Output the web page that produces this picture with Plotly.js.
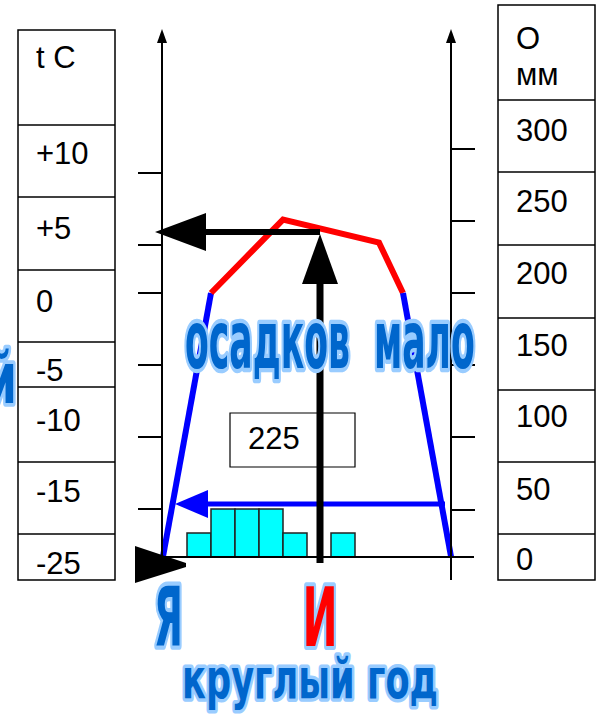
<!DOCTYPE html>
<html>
<head>
<meta charset="utf-8">
<script src="https://cdn.plot.ly/plotly-3.0.1.min.js"></script>
<style>
html,body{margin:0;padding:0;background:#fff;overflow:hidden;}
#chart{width:600px;height:715px;}
</style>
</head>
<body>
<div id="chart"></div>
<script>
// ---------- data ----------
const curveMonths = [0, 2, 5, 9, 10, 12];          // month position along the year
const curveTempC  = [-18.3, 0, 5.1, 3.5, 0, -18.3]; // temperature, °C
const monthIdx    = [0, 1, 2, 3, 4, 5, 6, 7, 8, 9, 10, 11];
const precipMm    = [0, 25, 50, 50, 50, 25, 0, 25, 0, 0, 0, 0];
const totalPrecip = '225';
const tempTicks   = [8.33, 3.33, 0, -5, -10, -15];
const precipTicks = [49, 125, 200, 275, 350, 425];
const tableTempLabels   = ['t C', '+10', '+5', '0', '-5', '-10', '-15', '-25'];
const tablePrecipHeader = ['O', 'мм'];
const tablePrecipLabels = ['300', '250', '200', '150', '100', '50', '0'];
const wordArt = ['осадков\u00a0\u00a0мало', 'й', 'Я', 'И', 'круглый год'];

// ---------- helpers (pixel -> paper) ----------
const W = 600, H = 715;
const px = x => x / W, py = y => 1 - y / H;
function line(x0, y0, x1, y1, color, width) {
  return {type:'line', xref:'paper', yref:'paper', x0:px(x0), y0:py(y0), x1:px(x1), y1:py(y1),
          line:{color:color, width:width}, layer:'above'};
}
function rect(x0, y0, x1, y1, width) {
  return {type:'rect', xref:'paper', yref:'paper', x0:px(x0), y0:py(y0), x1:px(x1), y1:py(y1),
          line:{color:'#000', width:width}, fillcolor:'rgba(0,0,0,0)', layer:'above'};
}
function poly(pts, color) {
  return {type:'path', xref:'paper', yref:'paper',
          path:'M' + pts.map(p => px(p[0]) + ',' + py(p[1])).join('L') + 'Z',
          fillcolor:color, line:{color:color, width:0}, layer:'above'};
}
const TXT_FONT = {family:'"Liberation Sans", Arial, sans-serif', size:31, color:'#000'};
function label(s, x, y, anchor) {
  return {text:s, xref:'paper', yref:'paper', x:px(x), y:py(y), xanchor:anchor || 'left',
          yanchor:'middle', showarrow:false, font:TXT_FONT};
}

// ---------- traces ----------
const BLUE = '#0000FF', RED = '#FF0000';
const seg = (a, b, color) => ({
  type:'scatter', mode:'lines', x:curveMonths.slice(a, b + 1), y:curveTempC.slice(a, b + 1),
  line:{color:color, width:6}, xaxis:'x', yaxis:'y', hoverinfo:'skip', showlegend:false
});
const traces = [
  {type:'bar', x:monthIdx.map(i => i + 0.5), y:precipMm, width:1, xaxis:'x', yaxis:'y2',
   marker:{color:'#00FFFF', line:{color:'#222', width:1.5}}, hoverinfo:'skip', showlegend:false},
  seg(0, 1, BLUE), seg(1, 4, RED), seg(4, 5, BLUE)
];

// ---------- shapes ----------
const shapes = [];
// left table
shapes.push(rect(18, 30, 115, 580, 1.5));
[125, 197, 270, 342, 387, 462, 534].forEach(y => shapes.push(line(18, y, 115, y, '#000', 1.5)));
// right table
shapes.push(rect(498, 5, 595, 580, 1.5));
[100, 172, 245, 318, 390, 462, 534].forEach(y => shapes.push(line(498, y, 595, y, '#000', 1.5)));
// box for total
shapes.push(rect(230, 413, 355, 467, 1.2));
// axes
shapes.push(line(162, 40, 162, 565, '#000', 2));
shapes.push(poly([[157, 43], [162, 29], [167, 43]], '#000'));
shapes.push(line(451, 40, 451, 580, '#000', 2));
shapes.push(poly([[446, 43], [451, 29], [456, 43]], '#000'));
shapes.push(line(162, 557, 474, 557, '#000', 2));
// blue arrow
shapes.push(line(205, 504, 445, 504, BLUE, 5));
shapes.push(poly([[175, 504], [208, 490], [208, 518]], BLUE));
// black arrows
shapes.push(line(204, 232, 320, 232, '#000', 6));
shapes.push(poly([[155, 232], [206, 213], [206, 251]], '#000'));
shapes.push(line(320, 280, 320, 563, '#000', 7));
shapes.push(poly([[320, 234], [302, 284], [338, 284]], '#000'));
shapes.push(poly([[135, 546], [186, 563], [186, 567], [135, 583]], '#000'));

// ---------- annotations ----------
const annotations = [];
const leftY = [57, 153, 228, 301, 370, 421, 491, 563];
tableTempLabels.forEach((s, i) => annotations.push(label(s, 34, leftY[i])));
annotations.push(label(tablePrecipHeader[0], 514, 38));
annotations.push(label(tablePrecipHeader[1], 514, 74));
const rightY = [130, 201, 273, 345, 416, 489, 559];
tablePrecipLabels.forEach((s, i) => annotations.push(label(s, 514, rightY[i])));
annotations.push(label(totalPrecip, 274, 439, 'center'));

const ART_FAMILY = '"Liberation Sans Narrow", "DejaVu Sans Condensed", "Liberation Sans", sans-serif';
const ART_SIZE = 40;
const artBoxes = [[186, 322, 474, 380], [-10, 346, 14, 403], [156, 584, 180, 646],
                  [306, 584, 334, 646], [185, 654, 437, 711]];
const artFill = ['#0066CC', '#0066CC', '#0066CC', '#FF0000', '#0066CC'];
const artMap = {};
wordArt.forEach((s, i) => {
  const b = artBoxes[i];
  artMap[annotations.length] = {text:s, box:b};
  annotations.push({text:s, xref:'paper', yref:'paper', x:px((b[0] + b[2]) / 2), y:py((b[1] + b[3]) / 2),
    xanchor:'center', yanchor:'middle', showarrow:false,
    font:{family:ART_FAMILY, size:ART_SIZE, color:artFill[i], weight:'bold'}});
});

// ---------- layout ----------
const T0 = 293, TPX = 14.4, P0 = 557, PPX = 0.96, M0 = 163, MPX = 24;
const layout = {
  width:W, height:H, margin:{l:0, r:0, t:0, b:0, pad:0},
  paper_bgcolor:'#fff', plot_bgcolor:'#fff', showlegend:false,
  xaxis:{range:[-M0 / MPX, (W - M0) / MPX], visible:false, fixedrange:true},
  yaxis:{range:[-(H - T0) / TPX, T0 / TPX], anchor:'free', position:162 / W, side:'left',
         showgrid:false, zeroline:false, showline:false, showticklabels:false,
         ticks:'outside', ticklen:24, tickwidth:2, tickcolor:'#000', tickvals:tempTicks},
  yaxis2:{range:[-(H - P0) / PPX, P0 / PPX], overlaying:'y', anchor:'free', position:451 / W, side:'right',
          showgrid:false, zeroline:false, showline:false, showticklabels:false,
          ticks:'outside', ticklen:23, tickwidth:2, tickcolor:'#000', tickvals:precipTicks},
  bargap:0, shapes:shapes, annotations:annotations
};

function fitArt() {
  const ctx = document.createElement('canvas').getContext('2d');
  ctx.font = 'bold ' + ART_SIZE + 'px ' + ART_FAMILY;
  document.querySelectorAll('g.annotation').forEach(g => {
    const i = +g.getAttribute('data-index');
    const spec = artMap[i];
    if (!spec) return;
    const t = g.querySelector('text');
    t.removeAttribute('transform');
    const bb = t.getBBox();
    const m = ctx.measureText(spec.text);
    const fa = m.fontBoundingBoxAscent, fd = m.fontBoundingBoxDescent;
    const base = bb.y + fa * bb.height / (fa + fd);
    const L = bb.x - m.actualBoundingBoxLeft, R = bb.x + m.actualBoundingBoxRight;
    const T = base - m.actualBoundingBoxAscent, B = base + m.actualBoundingBoxDescent;
    const M = t.getScreenCTM();
    const b = spec.box;
    const lx0 = (b[0] - M.e) / M.a, ly0 = (b[1] - M.f) / M.d;
    const lx1 = (b[2] - M.e) / M.a, ly1 = (b[3] - M.f) / M.d;
    const sx = (lx1 - lx0) / (R - L), sy = (ly1 - ly0) / (B - T);
    t.setAttribute('transform', 'translate(' + (lx0 - sx * L) + ',' + (ly0 - sy * T) + ') scale(' + sx + ',' + sy + ')');
    t.setAttribute('stroke', '#99CCFF');
    t.setAttribute('stroke-width', String(6 / Math.sqrt(sx * sy)));
    t.setAttribute('stroke-linejoin', 'round');
    t.setAttribute('paint-order', 'stroke');
    t.style.stroke = '#99CCFF';
    t.style.strokeWidth = (6 / Math.sqrt(sx * sy)) + 'px';
    t.style.strokeLinejoin = 'round';
    t.style.paintOrder = 'stroke';
  });
}

Plotly.newPlot('chart', traces, layout, {staticPlot:true, displayModeBar:false, responsive:false})
  .then(() => (document.fonts ? document.fonts.ready : Promise.resolve()))
  .then(fitArt);
</script>
</body>
</html>
